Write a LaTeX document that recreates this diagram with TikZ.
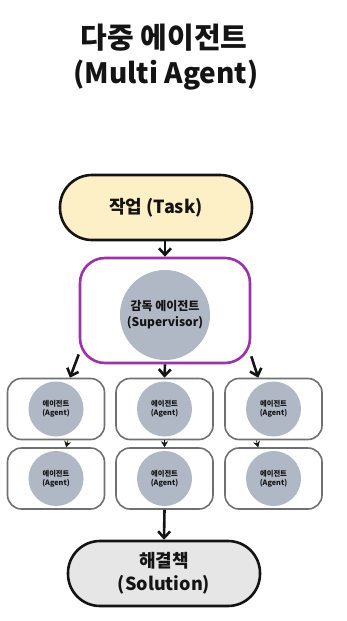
\documentclass[tikz,border=0pt]{standalone}
\usepackage{fontspec}
\setmainfont{Noto Sans CJK KR}
\usepackage{xcolor}
\usetikzlibrary{positioning,calc,arrows.meta}
\definecolor{Ink}{HTML}{141414}
\definecolor{TaskFill}{HTML}{FDEFC6}
\definecolor{SupLine}{HTML}{9A32A8}
\definecolor{Disc}{HTML}{AFB8C4}
\definecolor{AgentLine}{HTML}{707070}
\definecolor{SolFill}{HTML}{E6E6E6}
\newcommand{\AgentCell}[2]{%
\node[rounded corners=14pt, draw=AgentLine, fill=white, line width=1.6pt,
      minimum width=97pt, minimum height=61pt, inner sep=0pt] (#1) at #2 {};
\node[circle, fill=Disc, minimum size=55pt, inner sep=0pt, align=center,
      text=Ink, font=\bfseries\fontsize{7.3}{9}\selectfont] (#1c) at (#1.center) {%
  에이전트\\(Agent)%
};
}

\begin{document}
\begin{tikzpicture}[
    x=1pt,
    y=-1pt,
    flow/.style={-{Straight Barb[length=6.5pt,width=12pt]}, Ink, line width=2.6pt},
    tinyflow/.style={-{Stealth[length=6pt,width=7pt]}, Ink, line width=0.6pt},
    pill/.style={rounded corners=32pt, draw=Ink, line width=2.6pt,
                 minimum width=192pt, minimum height=65pt, align=center,
                 text=Ink, font=\bfseries\fontsize{18}{23}\selectfont}
]
\useasboundingbox (0,0) rectangle (347,621);

% Title
\node[font=\bfseries\fontsize{29}{34}\selectfont, text=Ink] (title) at (164,38) {다중 에이전트};
\node[font=\bfseries\fontsize{28}{34}\selectfont, text=Ink] (subtitle) at (166,75) {(Multi Agent)};

% Task
\node[pill, fill=TaskFill] (task) at (156,207.5) {작업 (Task)};

% Supervisor
\node[rounded corners=25pt, draw=SupLine, fill=white, line width=2.6pt,
      minimum width=170pt, minimum height=105pt, inner sep=0pt] (sup) at (165,310.5) {};
\node[circle, fill=Disc, minimum size=90pt, inner sep=0pt, align=center,
      text=Ink, font=\bfseries\fontsize{12}{16}\selectfont] (supc) at (165,315) {%
  감독 에이전트\\(Supervisor)%
};
\draw[flow] (task.south -| sup.north) -- (sup.north);

% Agents, two rows
\foreach \col/\x in {1/56, 2/164.5, 3/273.5} {
    \AgentCell{a\col}{(\x,409)}
    \AgentCell{b\col}{(\x,478.5)}
}

\draw[flow] (sup.207) -- (a1.66);
\draw[flow] (sup.south) -- (a2.north);
\draw[flow] (sup.-28) -- (a3.116);

\draw[tinyflow] (a1.-69) -- (b1.72);
\draw[tinyflow] (a2.south) -- (b2.north);
\draw[tinyflow] (a3.-119) -- (b3.116);

% Solution
\node[pill, fill=SolFill] (sol) at (164,573.5) {해결책\\(Solution)};
\draw[flow] (b2.south) -- (sol.north);

\end{tikzpicture}
\end{document}
